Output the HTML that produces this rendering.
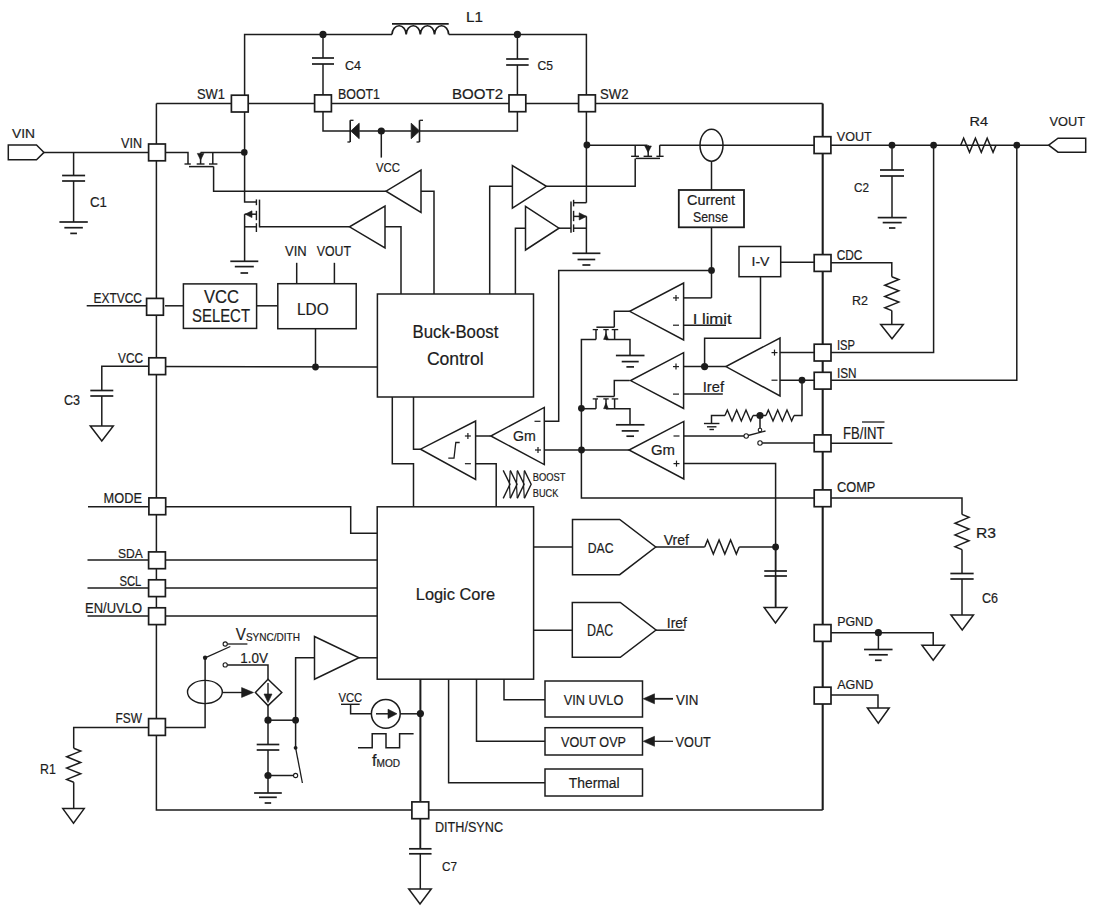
<!DOCTYPE html>
<html><head><meta charset="utf-8"><style>
html,body{margin:0;padding:0;background:#fff;width:1100px;height:915px;overflow:hidden}
svg{display:block}
text{font-family:"Liberation Sans",sans-serif;fill:#1c1c1c;stroke:#1c1c1c;stroke-width:0.2px}
</style></head><body>
<svg width="1100" height="915" viewBox="0 0 1100 915" stroke="#1c1c1c" fill="none" stroke-linecap="butt" stroke-linejoin="miter">
<rect x="0" y="0" width="1100" height="915" fill="#fff" stroke="none"/>
<polyline points="156.4,103.4 822.7,103.4" stroke-width="1.5"/>
<polyline points="156.4,103.4 156.4,810 822.7,810" stroke-width="1.5"/>
<polyline points="822.7,103.4 822.7,810" stroke-width="2.1"/>
<polyline points="244.6,103.4 244.6,34.4 392,34.4" stroke-width="1.5"/>
<path d="M392,34.4 a7.09,9 0 0 1 14.17,0 a7.09,9 0 0 1 14.17,0 a7.09,9 0 0 1 14.17,0 a7.09,9 0 0 1 14.17,0" fill="none" stroke-width="1.7"/>
<polyline points="392,23.8 448.7,23.8" stroke-width="1.7"/>
<polyline points="448.7,34.4 586.4,34.4 586.4,103.4" stroke-width="1.5"/>
<circle cx="323" cy="34.4" r="3.6" fill="#1c1c1c" stroke="none"/>
<circle cx="517.4" cy="34.4" r="3.6" fill="#1c1c1c" stroke="none"/>
<polyline points="323,34.4 323,58" stroke-width="1.5"/>
<polyline points="312,58 334,58" stroke-width="1.7"/>
<polyline points="312,64 334,64" stroke-width="1.7"/>
<polyline points="323,64 323,103" stroke-width="1.5"/>
<polyline points="517.4,34.4 517.4,59" stroke-width="1.5"/>
<polyline points="506.15,59 528.65,59" stroke-width="1.7"/>
<polyline points="506.15,65 528.65,65" stroke-width="1.7"/>
<polyline points="517.4,65 517.4,103" stroke-width="1.5"/>
<polyline points="323,103 323,131 350.2,131" stroke-width="1.5"/>
<polyline points="350.2,120.3 350.2,142" stroke-width="1.6"/>
<polyline points="350.2,120.3 353.5,120.3" stroke-width="1.3"/>
<polyline points="347.4,142 350.2,142" stroke-width="1.3"/>
<polygon points="350.8,131 359.2,123.2 359.2,138.7" fill="#1c1c1c" stroke-width="0.8"/>
<polyline points="359.2,131 411.2,131" stroke-width="1.5"/>
<circle cx="381.3" cy="131" r="3.6" fill="#1c1c1c" stroke="none"/>
<polyline points="381.3,131 381.3,157.6" stroke-width="1.5"/>
<polygon points="411.2,123.2 411.2,138.7 419.6,131" fill="#1c1c1c" stroke-width="0.8"/>
<polyline points="419.5,120.3 419.5,142" stroke-width="1.6"/>
<polyline points="419.5,120.3 423,120.3" stroke-width="1.3"/>
<polyline points="416.5,142 419.5,142" stroke-width="1.3"/>
<polyline points="419.6,131 517.4,131 517.4,103" stroke-width="1.5"/>
<polygon points="8.3,145 36.5,145 44,152.4 36.5,159.8 8.3,159.8" fill="#fff" stroke-width="1.5"/>
<polyline points="44,152.4 157,152.4" stroke-width="1.5"/>
<polyline points="73.6,152.4 73.6,175.5" stroke-width="1.5"/>
<polyline points="62.1,175.5 85.1,175.5" stroke-width="1.7"/>
<polyline points="62.1,181 85.1,181" stroke-width="1.7"/>
<polyline points="73.6,181 73.6,222" stroke-width="1.5"/>
<polyline points="59.4,222 87.8,222" stroke-width="1.7"/>
<polyline points="64.35,227.7 82.85,227.7" stroke-width="1.7"/>
<polyline points="70.25,233.4 76.95,233.4" stroke-width="1.7"/>
<polyline points="157,152.6 188,152.6 188,164" stroke-width="1.5"/>
<polyline points="184.5,164 190.8,164" stroke-width="1.4"/>
<polyline points="200.6,152.6 244.2,152.6" stroke-width="1.5"/>
<polyline points="200.6,152.6 200.6,164" stroke-width="1.5"/>
<polyline points="196.7,164 204.5,164" stroke-width="1.4"/>
<polygon points="197.3,153.4 203.9,153.4 200.6,160" fill="#1c1c1c" stroke-width="0.6"/>
<polyline points="212.8,152.6 212.8,164" stroke-width="1.5"/>
<polyline points="209,164 217.4,164" stroke-width="1.4"/>
<polyline points="189,166.6 213.6,166.6" stroke-width="1.5"/>
<polyline points="213.6,166.6 213.6,191.2 386,191.2" stroke-width="1.5"/>
<circle cx="244.3" cy="152.4" r="3.3" fill="#1c1c1c" stroke="none"/>
<polyline points="244.6,112 244.6,202 256.4,202" stroke-width="1.5"/>
<polyline points="256.4,199.4 256.4,205.2" stroke-width="1.4"/>
<polyline points="256.4,210.8 256.4,220.2" stroke-width="1.4"/>
<polyline points="256.4,223.2 256.4,232" stroke-width="1.4"/>
<polyline points="259.5,199.6 259.5,227.4" stroke-width="1.5"/>
<polyline points="244.6,214.2 256.4,214.2" stroke-width="1.5"/>
<polygon points="245.2,214.2 252,210.8 252,217.6" fill="#1c1c1c" stroke-width="0.6"/>
<polyline points="244.6,226.8 256.4,226.8" stroke-width="1.5"/>
<polyline points="259.5,226.8 349.5,226.8" stroke-width="1.5"/>
<polyline points="244.6,214.2 244.6,261.3" stroke-width="1.5"/>
<polyline points="230.3,261.3 258.3,261.3" stroke-width="1.7"/>
<polyline points="234.8,266.6 253.8,266.6" stroke-width="1.7"/>
<polyline points="240.5,273 248.1,273" stroke-width="1.7"/>
<polygon points="421,170 421,212.3 386,191.2" fill="#fff" stroke-width="1.5"/>
<polyline points="421,191.2 434,191.2 434,294" stroke-width="1.5"/>
<polygon points="385,206 385,248 349.5,226.8" fill="#fff" stroke-width="1.5"/>
<polyline points="385,226.8 401,226.8 401,294" stroke-width="1.5"/>
<polyline points="586.4,112 586.4,202.7" stroke-width="1.5"/>
<circle cx="586.9" cy="145" r="3.4" fill="#1c1c1c" stroke="none"/>
<polyline points="586.4,145.2 647.5,145.2" stroke-width="1.5"/>
<polyline points="635.2,145.2 635.2,156.3" stroke-width="1.5"/>
<polyline points="631.1,156.3 639,156.3" stroke-width="1.4"/>
<polyline points="648.2,145.2 648.2,156.3" stroke-width="1.5"/>
<polyline points="643.6,156.3 652.1,156.3" stroke-width="1.4"/>
<polygon points="644.8,146 651.4,146 648.1,152.4" fill="#1c1c1c" stroke-width="0.6"/>
<polyline points="659.7,145.2 659.7,156.3" stroke-width="1.5"/>
<polyline points="656.4,156.3 663.6,156.3" stroke-width="1.4"/>
<polyline points="635.7,158.4 660,158.4" stroke-width="1.5"/>
<polyline points="659.7,145.2 814,145.2" stroke-width="1.5"/>
<polyline points="635.2,158.4 635.2,186.3 546.4,186.3" stroke-width="1.5"/>
<polygon points="512.4,165.5 512.4,208.2 546.4,186.3" fill="#fff" stroke-width="1.5"/>
<polyline points="512.4,186.3 489.7,186.3 489.7,294" stroke-width="1.5"/>
<polyline points="586.4,202.7 573.6,202.7" stroke-width="1.5"/>
<polyline points="573.6,199.8 573.6,206.4" stroke-width="1.4"/>
<polyline points="573.6,210.8 573.6,221.2" stroke-width="1.4"/>
<polyline points="573.6,224.4 573.6,232" stroke-width="1.4"/>
<polyline points="571,201.6 571,232.8" stroke-width="1.5"/>
<polyline points="573.6,216.4 586.4,216.4" stroke-width="1.5"/>
<polygon points="586.4,216.4 579.2,212.8 579.2,220" fill="#1c1c1c" stroke-width="0.6"/>
<polyline points="573.6,228.2 586.4,228.2" stroke-width="1.5"/>
<polyline points="586.4,216.4 586.4,253.3" stroke-width="1.5"/>
<polyline points="572.4,253.3 600.4,253.3" stroke-width="1.7"/>
<polyline points="577.55,259.5 595.25,259.5" stroke-width="1.7"/>
<polyline points="582.4,265 590.4,265" stroke-width="1.7"/>
<polygon points="525.5,206.4 525.5,250 559,228.2" fill="#fff" stroke-width="1.5"/>
<polyline points="559,228.2 571,228.2" stroke-width="1.5"/>
<polyline points="525.5,228.2 515.4,228.2 515.4,294" stroke-width="1.5"/>
<ellipse cx="711.5" cy="145.2" rx="11.5" ry="16" fill="none" stroke-width="1.5"/>
<polyline points="711.5,161.2 711.5,190" stroke-width="1.5"/>
<rect x="678.8" y="190" width="65.2" height="37.3" fill="#fff" stroke-width="1.8"/>
<polyline points="711.5,227.3 711.5,297.9" stroke-width="1.5"/>
<circle cx="711.5" cy="270.4" r="3.4" fill="#1c1c1c" stroke="none"/>
<polyline points="711.5,270.4 558.7,270.4 558.7,421.3 544.3,421.3" stroke-width="1.5"/>
<polyline points="711.5,297.9 683.6,297.9" stroke-width="1.5"/>
<rect x="814.1" y="136.7" width="16.8" height="16.8" fill="#fff" stroke-width="1.7"/>
<polyline points="831,145.2 1048.7,145.2" stroke-width="1.5"/>
<circle cx="892" cy="145.2" r="3.4" fill="#1c1c1c" stroke="none"/>
<polyline points="892,145.2 892,170" stroke-width="1.5"/>
<polyline points="880,170 904,170" stroke-width="1.7"/>
<polyline points="880,176 904,176" stroke-width="1.7"/>
<polyline points="892,176 892,217.6" stroke-width="1.5"/>
<polyline points="877.7,217.6 906.7,217.6" stroke-width="1.7"/>
<polyline points="882.7,222.6 901.7,222.6" stroke-width="1.7"/>
<polyline points="889,228 895.4,228" stroke-width="1.7"/>
<circle cx="933.6" cy="145.2" r="3.4" fill="#1c1c1c" stroke="none"/>
<polyline points="933.6,145.2 933.6,352.6 831,352.6" stroke-width="1.5"/>
<polyline points="960.7,145.2 963.64,138.2 969.53,152.2 975.41,138.2 981.29,152.2 987.17,138.2 993.06,152.2 996,145.2" stroke-width="1.5"/>
<circle cx="1016.8" cy="145.2" r="3.4" fill="#1c1c1c" stroke="none"/>
<polyline points="1016.8,145.2 1016.8,380.2 831,380.2" stroke-width="1.5"/>
<polygon points="1048.7,145.2 1058,138.2 1085.7,138.2 1085.7,152.2 1058,152.2" fill="#fff" stroke-width="1.5"/>
<polyline points="86.7,305.8 157,305.8" stroke-width="1.5"/>
<polyline points="165,305.8 183.5,305.8" stroke-width="1.5"/>
<rect x="183.4" y="283.9" width="73.2" height="44.5" fill="#fff" stroke-width="1.5"/>
<polyline points="256.6,305.8 277.8,305.8" stroke-width="1.5"/>
<rect x="277.8" y="283.7" width="78.4" height="45" fill="#fff" stroke-width="1.5"/>
<polyline points="296.7,262.8 296.7,283.7" stroke-width="1.5"/>
<polyline points="334.4,262.8 334.4,283.7" stroke-width="1.5"/>
<polyline points="315.5,328.7 315.5,367" stroke-width="1.5"/>
<circle cx="315.5" cy="367" r="3.4" fill="#1c1c1c" stroke="none"/>
<polyline points="157,366.5 377.4,367" stroke-width="1.5"/>
<polyline points="157,366.2 101.8,366.2 101.8,390.5" stroke-width="1.5"/>
<polyline points="90.3,390.5 113.3,390.5" stroke-width="1.7"/>
<polyline points="90.3,396 113.3,396" stroke-width="1.7"/>
<polyline points="101.8,396 101.8,426" stroke-width="1.5"/>
<polygon points="90.3,426 113.3,426 101.8,441" fill="#fff" stroke-width="1.5"/>
<rect x="377.4" y="294" width="156.1" height="103" fill="#fff" stroke-width="1.5"/>
<polyline points="392.3,397 392.3,463.7 413.5,463.7 413.5,506.8" stroke-width="1.5"/>
<polyline points="413.5,397 413.5,449.2 420.5,449.2" stroke-width="1.5"/>
<polygon points="475.6,421 475.6,479.4 420.5,449.2" fill="#fff" stroke-width="1.5"/>
<polyline points="448.3,458.1 454,458.1 455.8,442.5 459.7,442.5" stroke-width="1.3"/>
<polyline points="464.9,436 470.9,436" stroke-width="1.2"/>
<polyline points="467.9,433 467.9,439" stroke-width="1.2"/>
<polyline points="464.9,463.7 470.9,463.7" stroke-width="1.2"/>
<polyline points="475.6,436 490.8,436" stroke-width="1.5"/>
<polyline points="475.6,463.7 496.2,463.7 496.2,506.8" stroke-width="1.5"/>
<polygon points="544.3,407.4 544.3,464.6 490.8,436" fill="#fff" stroke-width="1.5"/>
<polyline points="534.5,421.3 540.5,421.3" stroke-width="1.2"/>
<polyline points="535,450 541,450" stroke-width="1.2"/>
<polyline points="538,447 538,453" stroke-width="1.2"/>
<polyline points="544.3,450 629,450" stroke-width="1.5"/>
<circle cx="581.5" cy="450" r="3.4" fill="#1c1c1c" stroke="none"/>
<polyline points="503.2,470.4 510,484.2 503.2,498.4" stroke-width="1.4"/>
<polyline points="510.25,470.4 517.05,484.2 510.25,498.4" stroke-width="1.4"/>
<polyline points="517.3,470.4 524.1,484.2 517.3,498.4" stroke-width="1.4"/>
<polyline points="524.35,470.4 531.15,484.2 524.35,498.4" stroke-width="1.4"/>
<polyline points="510.2,471 509.4,484.2 510.2,498" stroke-width="1.2"/>
<polyline points="517.25,471 516.45,484.2 517.25,498" stroke-width="1.2"/>
<polyline points="524.3,471 523.5,484.2 524.3,498" stroke-width="1.2"/>
<polyline points="596,339.4 581.4,339.4 581.4,498 814,498" stroke-width="1.5"/>
<circle cx="581.4" cy="408.3" r="3.4" fill="#1c1c1c" stroke="none"/>
<polyline points="629.7,311.3 614.3,311.3 614.3,327.2" stroke-width="1.5"/>
<polyline points="596.4,327.2 614.3,327.2" stroke-width="1.5"/>
<polyline points="592.7,329.6 598,329.6" stroke-width="1.3"/>
<polyline points="603.3,329.6 608.7,329.6" stroke-width="1.3"/>
<polyline points="611.7,329.6 618.2,329.6" stroke-width="1.3"/>
<polyline points="596,329.6 596,339.4" stroke-width="1.5"/>
<polyline points="606,329.6 606,339.4" stroke-width="1.5"/>
<polyline points="614.6,329.6 614.6,339.4" stroke-width="1.5"/>
<polygon points="606,333.6 603.6,339.4 608.4,339.4" fill="#1c1c1c" stroke-width="0.6"/>
<polyline points="606,339.4 630,339.4 630,355.5" stroke-width="1.5"/>
<polyline points="615.9,355.5 644.5,355.5" stroke-width="1.7"/>
<polyline points="621.7,361.6 638.7,361.6" stroke-width="1.7"/>
<polyline points="626.4,366.9 634,366.9" stroke-width="1.7"/>
<polyline points="629.7,380.6 614.3,380.6 614.3,396.5" stroke-width="1.5"/>
<polyline points="596.4,396.5 614.3,396.5" stroke-width="1.5"/>
<polyline points="592.7,398.9 598,398.9" stroke-width="1.3"/>
<polyline points="603.3,398.9 608.7,398.9" stroke-width="1.3"/>
<polyline points="611.7,398.9 618.2,398.9" stroke-width="1.3"/>
<polyline points="596,398.9 596,408.7" stroke-width="1.5"/>
<polyline points="606,398.9 606,408.7" stroke-width="1.5"/>
<polyline points="614.6,398.9 614.6,408.7" stroke-width="1.5"/>
<polygon points="606,402.9 603.6,408.7 608.4,408.7" fill="#1c1c1c" stroke-width="0.6"/>
<polyline points="606,408.7 630,408.7 630,424.8" stroke-width="1.5"/>
<polyline points="615.9,424.8 644.5,424.8" stroke-width="1.7"/>
<polyline points="621.7,430.9 638.7,430.9" stroke-width="1.7"/>
<polyline points="626.4,436.2 634,436.2" stroke-width="1.7"/>
<polyline points="596,408.7 581.4,408.7" stroke-width="1.5"/>
<polygon points="683.6,283 683.6,340 629.7,311.3" fill="#fff" stroke-width="1.5"/>
<polyline points="673,297.9 679,297.9" stroke-width="1.2"/>
<polyline points="676,294.9 676,300.9" stroke-width="1.2"/>
<polyline points="673,325.2 679,325.2" stroke-width="1.2"/>
<polyline points="683.6,325.2 726,325.2" stroke-width="1.5"/>
<polygon points="683.6,352.7 683.6,408.4 630.6,380.6" fill="#fff" stroke-width="1.5"/>
<polyline points="673,366.6 679,366.6" stroke-width="1.2"/>
<polyline points="676,363.6 676,369.6" stroke-width="1.2"/>
<polyline points="673,394.1 679,394.1" stroke-width="1.2"/>
<polyline points="683.6,366.6 725.9,366.6" stroke-width="1.5"/>
<circle cx="704.6" cy="366.6" r="3.6" fill="#1c1c1c" stroke="none"/>
<polyline points="704.6,366.6 704.6,338.2 760.5,338.2 760.5,276.7" stroke-width="1.5"/>
<polyline points="683.6,394.1 722.8,394.1" stroke-width="1.5"/>
<rect x="739" y="246.5" width="41.7" height="30.2" fill="#fff" stroke-width="1.5"/>
<polyline points="780.7,262.3 814,262.3" stroke-width="1.5"/>
<rect x="814.2" y="254.6" width="16.8" height="16.8" fill="#fff" stroke-width="1.7"/>
<polyline points="831,262.8 891.8,262.8 891.8,276.7" stroke-width="1.5"/>
<polyline points="891.8,276.7 898.8,279.52 884.8,285.18 898.8,290.82 884.8,296.48 898.8,302.12 884.8,307.78 891.8,310.6" stroke-width="1.5"/>
<polyline points="891.8,310.6 891.8,324.4" stroke-width="1.5"/>
<polygon points="880.7,324.4 903.3,324.4 892,338.8" fill="#fff" stroke-width="1.5"/>
<polygon points="780,338 780,396 725.9,366.6" fill="#fff" stroke-width="1.5"/>
<polyline points="771.5,352.6 777.5,352.6" stroke-width="1.2"/>
<polyline points="774.5,349.6 774.5,355.6" stroke-width="1.2"/>
<polyline points="771.5,380.2 777.5,380.2" stroke-width="1.2"/>
<polyline points="780,352.6 814,352.6" stroke-width="1.5"/>
<polyline points="780,380.2 814,380.2" stroke-width="1.5"/>
<circle cx="802" cy="380.2" r="3.4" fill="#1c1c1c" stroke="none"/>
<polyline points="802,380.2 802,415.5 794,415.5" stroke-width="1.5"/>
<polyline points="725,415.5 727.33,410 732,421 736.67,410 741.33,421 746,410 750.67,421 753,415.5" stroke-width="1.4"/>
<polyline points="766,415.5 768.33,410 773,421 777.67,410 782.33,421 787,410 791.67,421 794,415.5" stroke-width="1.4"/>
<polyline points="725,415.5 711.5,415.5 711.5,423.5" stroke-width="1.5"/>
<polyline points="703.95,423.5 719.45,423.5" stroke-width="1.4"/>
<polyline points="706.95,426.8 716.45,426.8" stroke-width="1.4"/>
<polyline points="709.45,429.5 713.95,429.5" stroke-width="1.4"/>
<polyline points="753,415.5 766,415.5" stroke-width="1.5"/>
<circle cx="760" cy="415.5" r="3.6" fill="#1c1c1c" stroke="none"/>
<polyline points="760,415.5 760,428" stroke-width="1.5"/>
<circle cx="760" cy="430" r="1.8" fill="#fff" stroke-width="1.1"/>
<polyline points="746.2,436 765.5,431" stroke-width="1.3"/>
<circle cx="746.2" cy="436" r="2.2" fill="#fff" stroke-width="1.1"/>
<circle cx="760" cy="443" r="2.2" fill="#fff" stroke-width="1.1"/>
<polyline points="762.2,443 814,443" stroke-width="1.5"/>
<polyline points="683.8,436 744,436" stroke-width="1.5"/>
<polygon points="683.8,421.4 683.8,479 629,450" fill="#fff" stroke-width="1.5"/>
<polyline points="673.5,436 679.5,436" stroke-width="1.2"/>
<polyline points="673.5,463.6 679.5,463.6" stroke-width="1.2"/>
<polyline points="676.5,460.6 676.5,466.6" stroke-width="1.2"/>
<polyline points="683.8,463.6 775.6,463.6 775.6,607.5" stroke-width="1.5"/>
<rect x="814.2" y="344.2" width="16.8" height="16.8" fill="#fff" stroke-width="1.7"/>
<rect x="814.2" y="372.3" width="16.8" height="16.8" fill="#fff" stroke-width="1.7"/>
<rect x="814.2" y="434.9" width="16.8" height="16.8" fill="#fff" stroke-width="1.7"/>
<rect x="814.2" y="489.9" width="16.8" height="16.8" fill="#fff" stroke-width="1.7"/>
<polyline points="831,443.2 892.4,443.2" stroke-width="1.5"/>
<polyline points="831,498 962,498 962,514.4" stroke-width="1.5"/>
<polyline points="962,514.4 969,517.33 955,523.2 969,529.07 955,534.93 969,540.8 955,546.67 962,549.6" stroke-width="1.5"/>
<polyline points="962,549.6 962,573.5" stroke-width="1.5"/>
<polyline points="950.35,573.5 973.65,573.5" stroke-width="1.7"/>
<polyline points="950.35,579 973.65,579" stroke-width="1.7"/>
<polyline points="962,579 962,615" stroke-width="1.5"/>
<polygon points="950.95,615 973.45,615 962.2,630" fill="#fff" stroke-width="1.5"/>
<polyline points="88,506.8 157,506.8" stroke-width="1.5"/>
<polyline points="157,506.8 350.7,506.8 350.7,533.2 377.2,533.2" stroke-width="1.5"/>
<polyline points="87.5,560 377.2,560" stroke-width="1.5"/>
<polyline points="87.5,588 377.2,588" stroke-width="1.5"/>
<polyline points="87.5,616 377.2,616" stroke-width="1.5"/>
<rect x="377.2" y="506.8" width="156.4" height="172.4" fill="#fff" stroke-width="1.5"/>
<polygon points="572.5,519.4 619.7,519.4 655.7,547 619.7,574.7 572.5,574.7" fill="#fff" stroke-width="1.5"/>
<polyline points="533.6,547 572.5,547" stroke-width="1.5"/>
<polyline points="655.7,547 704.7,547" stroke-width="1.5"/>
<polyline points="704.7,547 707.58,540 713.33,554 719.08,540 724.83,554 730.58,540 736.33,554 739.2,547" stroke-width="1.5"/>
<polyline points="739.2,547 775.6,547" stroke-width="1.5"/>
<circle cx="775.6" cy="547" r="3.4" fill="#1c1c1c" stroke="none"/>
<polyline points="775.6,547 775.6,571" stroke-width="1.5"/>
<polyline points="764.25,571 786.95,571" stroke-width="1.7"/>
<polyline points="764.25,576 786.95,576" stroke-width="1.7"/>
<polyline points="775.6,576 775.6,607.5" stroke-width="1.5"/>
<polygon points="764.15,607.5 786.85,607.5 775.5,623" fill="#fff" stroke-width="1.5"/>
<polygon points="572.3,602.5 620.3,602.5 656,630 620.3,657.3 572.3,657.3" fill="#fff" stroke-width="1.5"/>
<polyline points="533.6,630.2 572.3,630.2" stroke-width="1.5"/>
<polyline points="656,630.2 684.4,630.2" stroke-width="1.5"/>
<polyline points="157,727.5 73.7,727.5 73.7,748.3" stroke-width="1.5"/>
<polyline points="73.7,748.3 80.7,751.12 66.7,756.77 80.7,762.43 66.7,768.08 80.7,773.73 66.7,779.38 73.7,782.2" stroke-width="1.5"/>
<polyline points="73.7,782.2 73.7,808.6" stroke-width="1.5"/>
<polygon points="62.8,808.6 84.2,808.6 73.5,823.2" fill="#fff" stroke-width="1.5"/>
<polyline points="157,727.5 205.1,727.5 205.1,657.8" stroke-width="1.5"/>
<circle cx="205.1" cy="657.8" r="2.2" fill="#1c1c1c" stroke="none"/>
<polyline points="205.1,657.8 230.3,646.5" stroke-width="1.3"/>
<circle cx="225.2" cy="644" r="2.1" fill="#fff" stroke-width="1.1"/>
<polyline points="227.3,644 247.4,644" stroke-width="1.3"/>
<circle cx="225.2" cy="664.9" r="2.1" fill="#fff" stroke-width="1.1"/>
<polyline points="227.3,664.9 268,664.9 268,679.2" stroke-width="1.5"/>
<polygon points="268,679.2 281.8,692.5 268,705.6 255.4,692.5" fill="#fff" stroke-width="1.5"/>
<polyline points="268,683 268,697" stroke-width="1.4"/>
<polygon points="264,694 272,694 268,702.5" fill="#1c1c1c" stroke-width="0.6"/>
<ellipse cx="204.9" cy="692" rx="17.4" ry="11.6" fill="none" stroke-width="1.4"/>
<polyline points="222.3,692.5 245,692.5" stroke-width="1.4"/>
<polygon points="241.6,687.6 253.5,692.5 241.6,697.4" fill="#1c1c1c" stroke-width="0.6"/>
<polyline points="268,705.6 268,744.5" stroke-width="1.5"/>
<polyline points="256.7,744.5 279.3,744.5" stroke-width="1.7"/>
<polyline points="256.7,750 279.3,750" stroke-width="1.7"/>
<polyline points="268,750 268,793" stroke-width="1.5"/>
<circle cx="268" cy="720.2" r="3.6" fill="#1c1c1c" stroke="none"/>
<circle cx="268" cy="775.5" r="3.6" fill="#1c1c1c" stroke="none"/>
<polyline points="254,793 281.8,793" stroke-width="1.7"/>
<polyline points="259,797.3 276.8,797.3" stroke-width="1.7"/>
<polyline points="264.65,803 271.15,803" stroke-width="1.7"/>
<polyline points="268,720.2 295.6,720.2" stroke-width="1.5"/>
<circle cx="295.6" cy="720.2" r="3.4" fill="#1c1c1c" stroke="none"/>
<polyline points="295.6,720.2 295.6,657.8 314.5,657.8" stroke-width="1.5"/>
<polyline points="295.6,720.2 295.6,747.8" stroke-width="1.5"/>
<circle cx="295.6" cy="747.8" r="1.9" fill="#1c1c1c" stroke="none"/>
<polyline points="295.6,747.8 302.4,783" stroke-width="1.3"/>
<polyline points="268,775.5 293.5,775.5" stroke-width="1.5"/>
<circle cx="295.6" cy="775.5" r="2.1" fill="#fff" stroke-width="1.1"/>
<polygon points="314.5,636.5 314.5,679.2 359,657.8" fill="#fff" stroke-width="1.5"/>
<polyline points="359,657.8 377.2,657.8" stroke-width="1.5"/>
<polyline points="341,704.3 359.7,704.3" stroke-width="1.4"/>
<polyline points="350.6,704.3 350.6,713.8 371.4,713.8" stroke-width="1.5"/>
<circle cx="385.8" cy="713.8" r="14.4" fill="#fff" stroke-width="1.5"/>
<polyline points="376,713.8 390,713.8" stroke-width="1.5"/>
<polygon points="388,709.2 397,713.8 388,718.4" fill="#1c1c1c" stroke-width="0.6"/>
<polyline points="400.2,713.8 420.4,713.8" stroke-width="1.5"/>
<circle cx="420.4" cy="713.6" r="3.6" fill="#1c1c1c" stroke="none"/>
<polyline points="358,747.8 372.2,747.8 372.2,733.7 386,733.7 386,747.8 399.6,747.8 399.6,733.7 413.6,733.7" stroke-width="1.5"/>
<polyline points="420.4,679.2 420.4,801" stroke-width="2"/>
<polyline points="448.6,679.2 448.6,782.8 545,782.8" stroke-width="1.5"/>
<polyline points="476.5,679.2 476.5,741.3 545,741.3" stroke-width="1.5"/>
<polyline points="504,679.2 504,699.8 545,699.8" stroke-width="1.5"/>
<rect x="545" y="681" width="97.5" height="36" fill="#fff" stroke-width="1.5"/>
<rect x="545" y="727.7" width="97.5" height="27.3" fill="#fff" stroke-width="1.5"/>
<rect x="545" y="769" width="97.5" height="27" fill="#fff" stroke-width="1.5"/>
<polyline points="654,698.8 673,698.8" stroke-width="1.8"/>
<polygon points="643.2,698.8 654.5,693.8 654.5,703.8" fill="#1c1c1c" stroke-width="0.6"/>
<polyline points="654,741.3 673,741.3" stroke-width="1.3"/>
<polygon points="643.2,741.3 654.5,736.3 654.5,746.3" fill="#1c1c1c" stroke-width="0.6"/>
<polyline points="420.3,819 420.3,848.8" stroke-width="1.9"/>
<polyline points="409.05,848.8 431.55,848.8" stroke-width="1.7"/>
<polyline points="409.05,853.8 431.55,853.8" stroke-width="1.7"/>
<polyline points="420.3,853.8 420.3,889" stroke-width="1.5"/>
<polygon points="408.75,889 431.25,889 420,904" fill="#fff" stroke-width="1.5"/>
<polyline points="831,632.7 933.2,632.7 933.2,645.2" stroke-width="1.5"/>
<polygon points="921.95,645.2 944.45,645.2 933.2,660.3" fill="#fff" stroke-width="1.5"/>
<circle cx="878.4" cy="632.7" r="3.6" fill="#1c1c1c" stroke="none"/>
<polyline points="878.4,632.7 878.4,649.5" stroke-width="1.5"/>
<polyline points="864.05,649.5 892.55,649.5" stroke-width="1.7"/>
<polyline points="868.8,654.8 887.8,654.8" stroke-width="1.7"/>
<polyline points="874.95,660.3 881.65,660.3" stroke-width="1.7"/>
<polyline points="831,695 878,695 878,708" stroke-width="1.5"/>
<polygon points="867.4,708 889.2,708 878.3,723.2" fill="#fff" stroke-width="1.5"/>
<rect x="231.4" y="95.2" width="16.8" height="16.8" fill="#fff" stroke-width="1.7"/>
<rect x="314.6" y="94.9" width="16.8" height="16.8" fill="#fff" stroke-width="1.7"/>
<rect x="509" y="94.9" width="16.8" height="16.8" fill="#fff" stroke-width="1.7"/>
<rect x="578.6" y="94.9" width="16.8" height="16.8" fill="#fff" stroke-width="1.7"/>
<rect x="148.6" y="144" width="16.8" height="16.8" fill="#fff" stroke-width="1.7"/>
<rect x="146.6" y="298.4" width="16.8" height="16.8" fill="#fff" stroke-width="1.7"/>
<rect x="148.8" y="357.8" width="16.8" height="16.8" fill="#fff" stroke-width="1.7"/>
<rect x="148.9" y="497.9" width="16.8" height="16.8" fill="#fff" stroke-width="1.7"/>
<rect x="148.6" y="551.9" width="16.8" height="16.8" fill="#fff" stroke-width="1.7"/>
<rect x="148.6" y="579.8" width="16.8" height="16.8" fill="#fff" stroke-width="1.7"/>
<rect x="148.6" y="607.8" width="16.8" height="16.8" fill="#fff" stroke-width="1.7"/>
<rect x="148.6" y="718.6" width="16.8" height="16.8" fill="#fff" stroke-width="1.7"/>
<rect x="411.9" y="801.9" width="16.8" height="16.8" fill="#fff" stroke-width="1.7"/>
<rect x="814.2" y="624.6" width="16.8" height="16.8" fill="#fff" stroke-width="1.7"/>
<rect x="814.2" y="687.2" width="16.8" height="16.8" fill="#fff" stroke-width="1.7"/>
<text x="466" y="22.2" font-size="14.86" textLength="17" lengthAdjust="spacingAndGlyphs">L1</text>
<text x="345" y="69.5" font-size="12.86" textLength="16" lengthAdjust="spacingAndGlyphs">C4</text>
<text x="537.5" y="69.5" font-size="12.86" textLength="15.5" lengthAdjust="spacingAndGlyphs">C5</text>
<text x="197" y="98.8" font-size="13.71" textLength="28" lengthAdjust="spacingAndGlyphs">SW1</text>
<text x="338" y="98.8" font-size="13.71" textLength="42" lengthAdjust="spacingAndGlyphs">BOOT1</text>
<text x="452" y="98.8" font-size="13.71" textLength="51" lengthAdjust="spacingAndGlyphs">BOOT2</text>
<text x="600" y="98.8" font-size="13.71" textLength="28.5" lengthAdjust="spacingAndGlyphs">SW2</text>
<text x="376" y="171.6" font-size="13.43" textLength="24" lengthAdjust="spacingAndGlyphs">VCC</text>
<text x="12" y="138" font-size="13.57" textLength="23" lengthAdjust="spacingAndGlyphs">VIN</text>
<text x="121" y="147.5" font-size="13.86" textLength="21" lengthAdjust="spacingAndGlyphs">VIN</text>
<text x="90" y="206.5" font-size="15" textLength="17" lengthAdjust="spacingAndGlyphs">C1</text>
<text x="836.8" y="140.6" font-size="13.43" textLength="34.9" lengthAdjust="spacingAndGlyphs">VOUT</text>
<text x="854" y="191.5" font-size="13.57" textLength="15" lengthAdjust="spacingAndGlyphs">C2</text>
<text x="969.5" y="125.8" font-size="13.29" textLength="18.5" lengthAdjust="spacingAndGlyphs">R4</text>
<text x="1049.5" y="125.8" font-size="13.29" textLength="35.5" lengthAdjust="spacingAndGlyphs">VOUT</text>
<text x="687" y="204.5" font-size="14.29" textLength="48" lengthAdjust="spacingAndGlyphs">Current</text>
<text x="693" y="221.8" font-size="14.71" textLength="35" lengthAdjust="spacingAndGlyphs">Sense</text>
<text x="93.5" y="302.5" font-size="14.29" textLength="48.5" lengthAdjust="spacingAndGlyphs">EXTVCC</text>
<text x="204" y="302.5" font-size="18.57" textLength="35" lengthAdjust="spacingAndGlyphs">VCC</text>
<text x="192" y="321.5" font-size="18.57" textLength="58" lengthAdjust="spacingAndGlyphs">SELECT</text>
<text x="297" y="315.2" font-size="16.71" textLength="31.6" lengthAdjust="spacingAndGlyphs">LDO</text>
<text x="285" y="256" font-size="15" textLength="21.7" lengthAdjust="spacingAndGlyphs">VIN</text>
<text x="316.8" y="256" font-size="15" textLength="34.2" lengthAdjust="spacingAndGlyphs">VOUT</text>
<text x="118" y="362.5" font-size="14.29" textLength="25" lengthAdjust="spacingAndGlyphs">VCC</text>
<text x="64" y="404.5" font-size="15" textLength="16" lengthAdjust="spacingAndGlyphs">C3</text>
<text x="412.5" y="338.3" font-size="17.53" textLength="85.8" lengthAdjust="spacingAndGlyphs">Buck-Boost</text>
<text x="426.9" y="365.4" font-size="18.08" textLength="56.7" lengthAdjust="spacingAndGlyphs">Control</text>
<text x="751.5" y="266.3" font-size="13.29" textLength="18" lengthAdjust="spacingAndGlyphs">I-V</text>
<text x="836.7" y="259.5" font-size="14.29" textLength="25.7" lengthAdjust="spacingAndGlyphs">CDC</text>
<text x="852" y="305.3" font-size="13.29" textLength="16" lengthAdjust="spacingAndGlyphs">R2</text>
<text x="837" y="350.3" font-size="14.71" textLength="18" lengthAdjust="spacingAndGlyphs">ISP</text>
<text x="837" y="378" font-size="15" textLength="19.6" lengthAdjust="spacingAndGlyphs">ISN</text>
<text x="692.7" y="324" font-size="14.38" textLength="38.9" lengthAdjust="spacingAndGlyphs">I limit</text>
<text x="702.7" y="391.7" font-size="13.97" textLength="21.3" lengthAdjust="spacingAndGlyphs">Iref</text>
<text x="513" y="440.8" font-size="14.71" textLength="22.8" lengthAdjust="spacingAndGlyphs">Gm</text>
<text x="651" y="454.8" font-size="14.71" textLength="24" lengthAdjust="spacingAndGlyphs">Gm</text>
<text x="532.8" y="481.2" font-size="11.43" textLength="32.7" lengthAdjust="spacingAndGlyphs">BOOST</text>
<text x="532.8" y="496.8" font-size="10.86" textLength="25.5" lengthAdjust="spacingAndGlyphs">BUCK</text>
<text x="843" y="438.5" font-size="16.43" textLength="41.5" lengthAdjust="spacingAndGlyphs">FB/INT</text>
<polyline points="862,422 884.5,422" stroke-width="1.3"/>
<text x="837" y="491.8" font-size="14.71" textLength="38.4" lengthAdjust="spacingAndGlyphs">COMP</text>
<text x="976" y="537.5" font-size="14.29" textLength="20" lengthAdjust="spacingAndGlyphs">R3</text>
<text x="982" y="603" font-size="15" textLength="16" lengthAdjust="spacingAndGlyphs">C6</text>
<text x="103.6" y="502.8" font-size="14" textLength="38.4" lengthAdjust="spacingAndGlyphs">MODE</text>
<text x="118" y="558" font-size="13.57" textLength="24.8" lengthAdjust="spacingAndGlyphs">SDA</text>
<text x="119.4" y="585.6" font-size="13.71" textLength="21.9" lengthAdjust="spacingAndGlyphs">SCL</text>
<text x="85" y="612.6" font-size="14.43" textLength="57" lengthAdjust="spacingAndGlyphs">EN/UVLO</text>
<text x="415.8" y="599.5" font-size="16.43" textLength="79.2" lengthAdjust="spacingAndGlyphs">Logic Core</text>
<text x="587.8" y="552.8" font-size="14.71" textLength="25.7" lengthAdjust="spacingAndGlyphs">DAC</text>
<text x="663.7" y="545.3" font-size="14.11" textLength="25.2" lengthAdjust="spacingAndGlyphs">Vref</text>
<text x="587" y="635.8" font-size="16.14" textLength="26.3" lengthAdjust="spacingAndGlyphs">DAC</text>
<text x="666.8" y="628.2" font-size="14.66" textLength="20.2" lengthAdjust="spacingAndGlyphs">Iref</text>
<text x="837.2" y="626" font-size="13.14" textLength="35.8" lengthAdjust="spacingAndGlyphs">PGND</text>
<text x="837.2" y="688.8" font-size="13.29" textLength="36.2" lengthAdjust="spacingAndGlyphs">AGND</text>
<text x="115.6" y="722.6" font-size="14.43" textLength="26.4" lengthAdjust="spacingAndGlyphs">FSW</text>
<text x="40" y="774.2" font-size="14.57" textLength="15.8" lengthAdjust="spacingAndGlyphs">R1</text>
<text x="235.8" y="639.8" font-size="16.86" textLength="10.1" lengthAdjust="spacingAndGlyphs">V</text>
<text x="245.9" y="641.2" font-size="11" textLength="54.1" lengthAdjust="spacingAndGlyphs">SYNC/DITH</text>
<text x="240.3" y="663.3" font-size="14.29" textLength="27.7" lengthAdjust="spacingAndGlyphs">1.0V</text>
<text x="338.4" y="701.5" font-size="13.14" textLength="23.9" lengthAdjust="spacingAndGlyphs">VCC</text>
<text x="372" y="765.5" font-size="16.44" textLength="4.5" lengthAdjust="spacingAndGlyphs">f</text>
<text x="376.5" y="767" font-size="10" textLength="23.5" lengthAdjust="spacingAndGlyphs">MOD</text>
<text x="563.8" y="704.6" font-size="15.14" textLength="59.5" lengthAdjust="spacingAndGlyphs">VIN UVLO</text>
<text x="561" y="746.5" font-size="14.71" textLength="65" lengthAdjust="spacingAndGlyphs">VOUT OVP</text>
<text x="568.8" y="787.5" font-size="15.07" textLength="50.8" lengthAdjust="spacingAndGlyphs">Thermal</text>
<text x="676" y="704.6" font-size="15.14" textLength="22.3" lengthAdjust="spacingAndGlyphs">VIN</text>
<text x="675.6" y="746.5" font-size="14.71" textLength="35.2" lengthAdjust="spacingAndGlyphs">VOUT</text>
<text x="435" y="832" font-size="15" textLength="68" lengthAdjust="spacingAndGlyphs">DITH/SYNC</text>
<text x="442" y="870.8" font-size="13.29" textLength="15" lengthAdjust="spacingAndGlyphs">C7</text>
</svg>
</body></html>
